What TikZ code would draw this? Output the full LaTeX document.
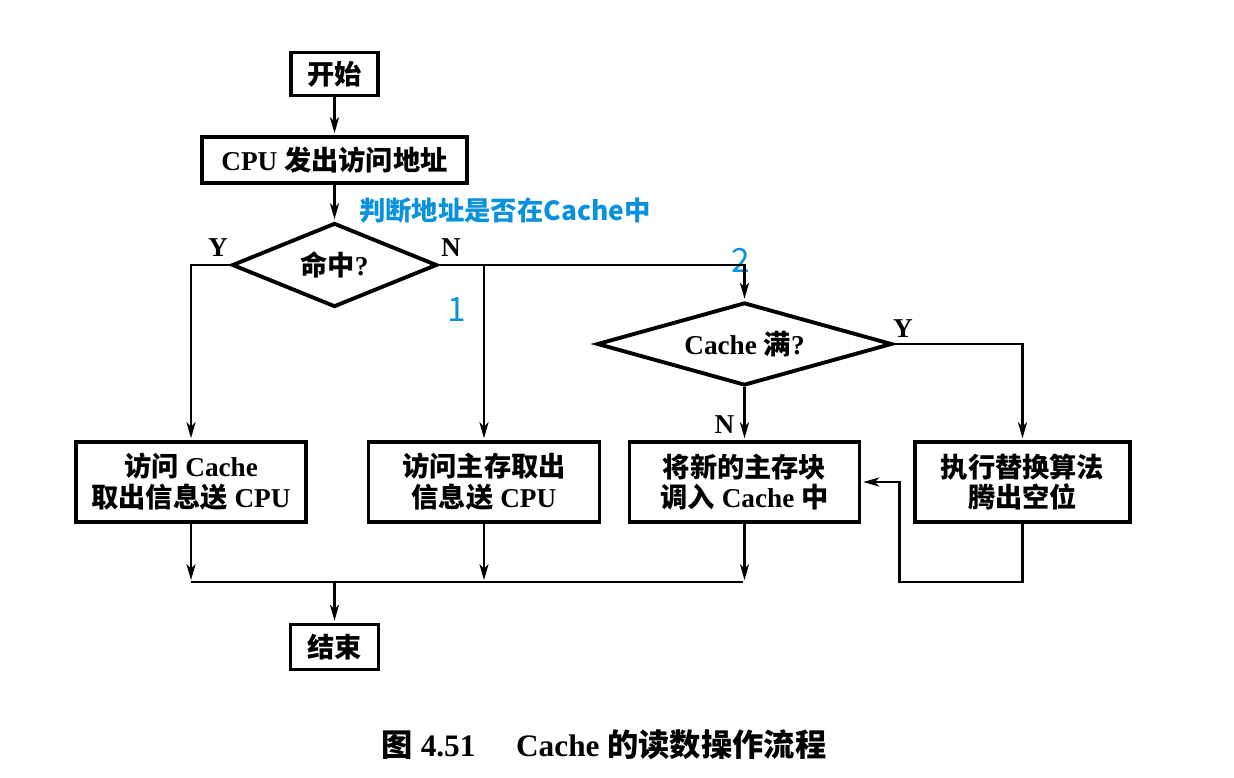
\documentclass[tikz,border=0pt]{standalone}
\usepackage{fontspec}
\setmainfont{Liberation Serif}
\newfontfamily\cjk{Noto Sans CJK SC}
\usepackage{tikz}
\usetikzlibrary{arrows.meta}
\usetikzlibrary{shapes.geometric}
\usetikzlibrary{positioning}
\definecolor{notecol}{RGB}{10,145,220}
\newcommand{\zh}[1]{{\cjk #1}}

\begin{document}
\begin{tikzpicture}[->,>={Stealth[length=3.2mm,width=1.8mm,inset=0.9mm]},shorten >=1pt,auto,node distance=3cm,
  line width=1.5pt,
  box/.style={draw,rectangle,line width=2.2pt,align=center,inner sep=2pt,
    minimum height=1.6cm,font=\fontsize{15.5}{17.5}\selectfont\bfseries},
  decide/.style={draw,diamond,line width=2.2pt,inner sep=0pt,
    font=\fontsize{15.5}{17.5}\selectfont\bfseries},
  lbl/.style={font=\fontsize{15.5}{17}\selectfont\bfseries},
  note/.style={text=notecol,font=\cjk\fontsize{15}{17}\selectfont\bfseries}]

  \useasboundingbox (0,0) rectangle (24.68,-15.56);

  \node[box,minimum width=1.74cm,minimum height=0.86cm] (start) at (6.69,-1.48) {\zh{开始}};
  \node[box,minimum width=5.3cm,minimum height=0.92cm] (cpu) [below of=start,node distance=1.72cm] {CPU \zh{发出访问地址}};
  \node[decide,shape aspect=2.44,minimum width=4.1cm,minimum height=1.68cm] (hit) [below of=cpu,node distance=2.1cm] {\zh{命中}?};
  \node[box,minimum width=4.6cm] (acc) [below of=hit,node distance=4.34cm,xshift=-2.87cm] {\zh{访问} Cache\\\zh{取出信息送} CPU};
  \node[box,minimum width=4.62cm] (mem) [right of=acc,node distance=5.86cm] {\zh{访问主存取出}\\\zh{信息送} CPU};
  \node[box,minimum width=4.6cm] (load) [right of=mem,node distance=5.21cm] {\zh{将新的主存块}\\\zh{调入} Cache \zh{中}};
  \node[box,minimum width=4.3cm] (repl) [right of=load,node distance=5.56cm] {\zh{执行替换算法}\\\zh{腾出空位}};
  \node[decide,shape aspect=3.55,minimum width=5.9cm,minimum height=1.66cm] (full) [above of=load,node distance=2.76cm] {Cache \zh{满}?};
  \node[box,minimum width=1.76cm,minimum height=0.9cm] (stop) [below of=hit,node distance=7.64cm] {\zh{结束}};
  \node[lbl,font=\fontsize{17.8}{20}\selectfont\bfseries] (cap) [below of=stop,node distance=1.96cm,xshift=5.39cm] {\zh{图} 4.51\hspace{1.3em}Cache \zh{的读数操作流程}};

  % annotations
  \node[note,anchor=west] (hint) at ([xshift=0.35cm,yshift=0.22cm]hit.north) {判断地址是否在Cache中};
  \coordinate (nsplit) at (hit.east -| mem.north);
  \node[note,font=\cjk\fontsize{19}{20}\selectfont] (one) at ([xshift=-0.54cm,yshift=-0.9cm]nsplit) {1};
  \node[note,font=\cjk\fontsize{19}{20}\selectfont] (two) at ([xshift=-0.08cm,yshift=0.8cm]full.north) {2};

  \node[lbl] (yhit) at ([xshift=-0.24cm,yshift=0.34cm]hit.west) {Y};
  \node[lbl] (nhit) at ([xshift=0.24cm,yshift=0.34cm]hit.east) {N};
  \node[lbl] (yfull) at ([xshift=0.18cm,yshift=0.3cm]full.east) {Y};
  \node[lbl] (nfull) at ([xshift=-0.4cm,yshift=-0.74cm]full.south) {N};

  \coordinate[below=1.16cm of load.south] (busR);
  \coordinate[right=0.76cm of load.east] (back);

  \draw (start) -- (cpu);
  \draw (cpu) -- (hit);
  \draw (hit.west) -| (acc.north);
  \draw (hit.east) -| (full.north);
  \draw (nsplit) -- (mem.north);
  \draw (full.east) -| (repl.north);
  \draw (full.south) -- (load.north);
  \draw (repl.south) |- (back |- busR) -- (back) -- (load.east);

  \draw (acc.south) -- (acc.south |- busR);
  \draw (mem.south) -- (mem.south |- busR);
  \draw (load.south) -- (busR);
  \draw[-] (acc.south |- busR) -- (busR);
  \draw (stop.north |- busR) -- (stop.north);
\end{tikzpicture}
\end{document}
